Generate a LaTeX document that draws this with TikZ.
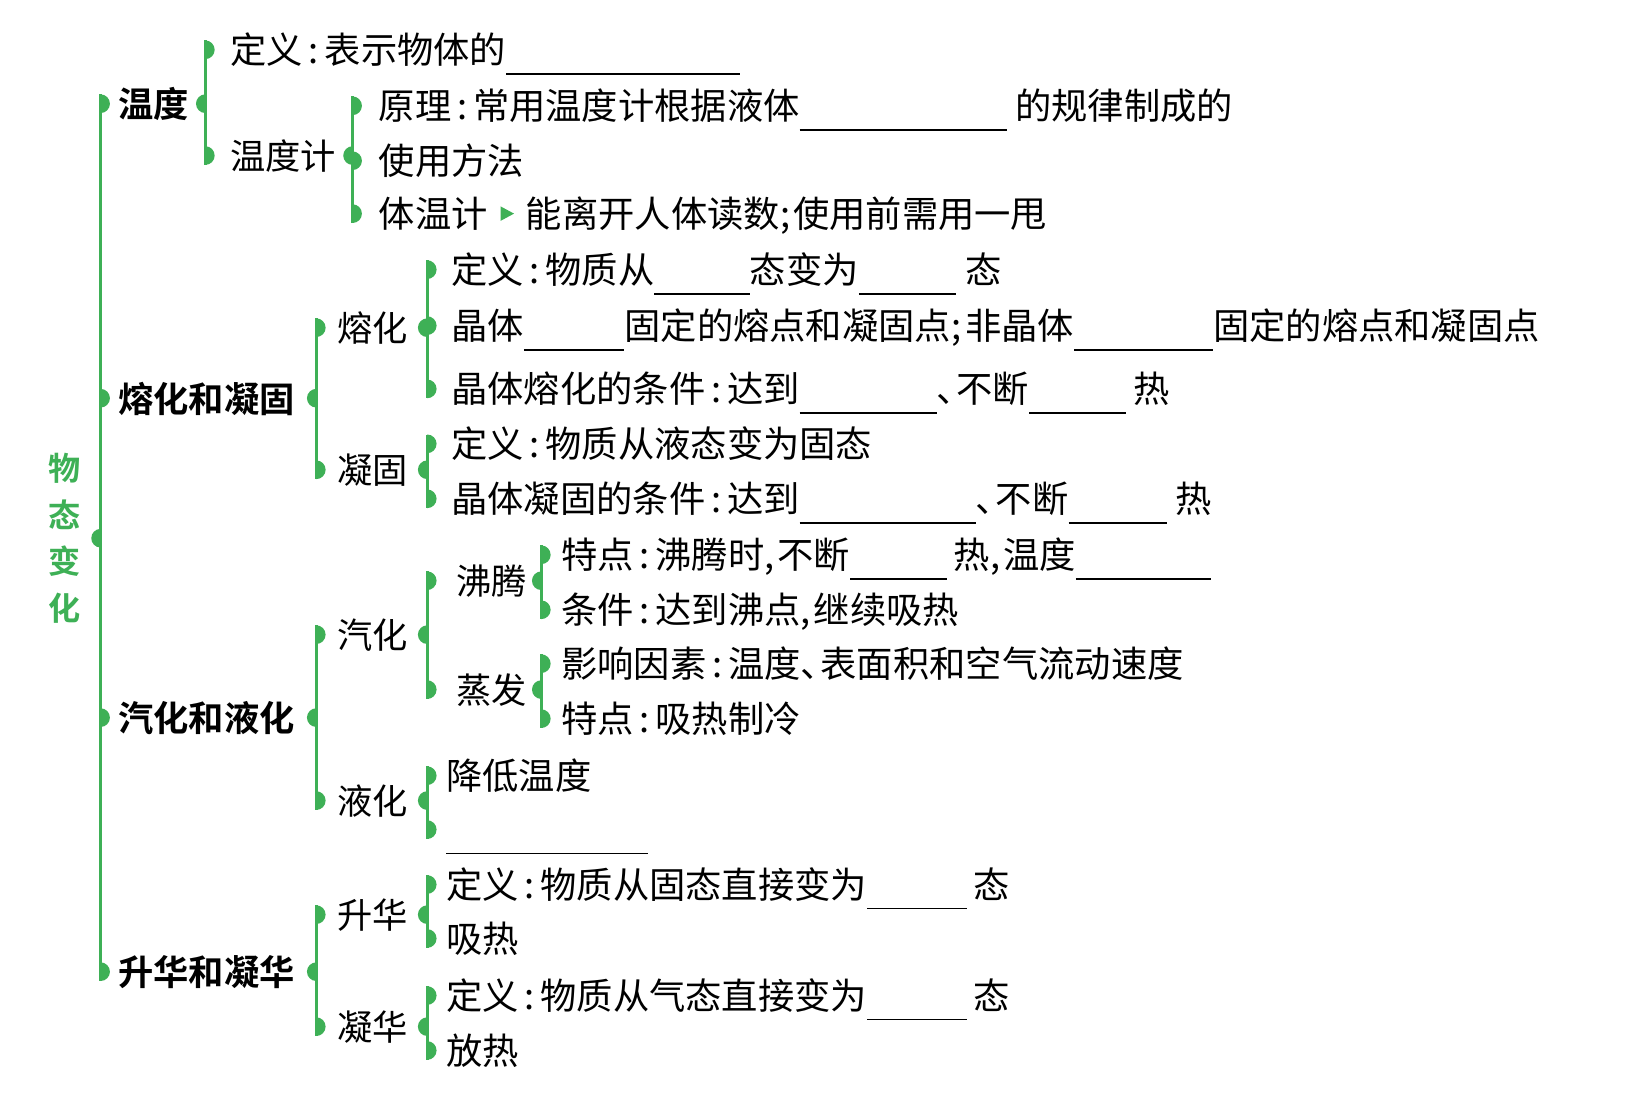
\documentclass[tikz,border=0pt]{standalone}
\usepackage{fontspec}
\setmainfont{Noto Sans CJK SC}[BoldFont={Noto Sans CJK SC Bold}]
\usetikzlibrary{calc}
\definecolor{forkgreen}{RGB}{62,176,86}
\newcommand{\fillin}[1]{\rule[-0.3em]{#1pt}{1.5pt}}
\newcommand{\colonsep}{\hspace{0.16em}:\hspace{0.16em}}
\newcommand{\dun}{、\hspace{-0.45em}}
\tikzset{
  leaf/.style={anchor=west, inner sep=0pt, text height=31pt, text depth=4pt,
               font=\fontsize{35}{40}\selectfont},
  topic/.style={leaf, font=\fontsize{34}{40}\selectfont\bfseries},
  branch/.style={leaf, font=\fontsize{34}{40}\selectfont},
  rootlabel/.style={inner sep=0pt, align=center, text=forkgreen,
                    font=\fontsize{31}{45}\selectfont\bfseries},
  forkline/.style={draw=forkgreen, line width=3pt},
  bump/.style={fill=forkgreen}
}
% #1 x of the bar, #2 parent, #3 first child, #4 last child, #5 all children
\newcommand{\fork}[5]{%
  \coordinate (fx) at (#1,0);
  \draw[forkline, shorten <=-9pt, shorten >=-9pt] (fx |- #3) -- (fx |- #4);
  \foreach \kid in {#5}
    \fill[bump] (fx |- \kid) ++(0,-9) arc[start angle=90, end angle=-90, radius=9pt] -- cycle;
  \fill[bump] (fx |- #2) ++(0,-9) arc[start angle=90, end angle=270, radius=9pt] -- cycle;
}
\begin{document}
\begin{tikzpicture}[x=1pt, y=-1pt]
  \useasboundingbox (0,0) rectangle (1568,1061);
  \node[rootlabel] (root) at (62,519) {物\\态\\变\\化};

  % first level
  \node[topic] (wd) at (114,100) {温度};
  \node[topic] (rn) at (114,384) {熔化和凝固};
  \node[topic] (qy) at (114,692) {汽化和液化};
  \node[topic] (sn) at (114,937) {升华和凝华};
  \fork{97}{root}{wd}{sn}{wd,rn,qy,sn}

  % temperature
  \node[leaf] (wddef) at (222,48) {定义\colonsep 表示物体的\fillin{225}};
  \node[branch] (wdj) at (222,150) {温度计};
  \fork{198}{wd}{wddef}{wdj}{wddef,wdj}
  \node[leaf] (yl) at (365,102) {原理\colonsep 常用温度计根据液体\fillin{200}\hspace{8pt}的规律制成的};
  \node[leaf] (syff) at (365,155) {使用方法};
  \node[leaf] (twj) at (365,206) {体温计};
  \node[leaf] (twjt) at (507,206) {能离开人体读数;\hspace{3pt}使用前需用一甩};
  \fork{340}{wdj}{yl}{twj}{yl,syff,twj}
  \path (twj.east) -- (twjt.west) coordinate[midway] (tip);
  \fill[bump] ($(tip)+(-6,-7)$) -- ($(tip)+(7,0)$) -- ($(tip)+(-6,7)$) -- cycle;

  % melting and solidifying
  \node[branch] (rh) at (325,316) {熔化};
  \node[branch] (ng) at (325,453) {凝固};
  \fork{305}{rn}{rh}{ng}{rh,ng}
  \node[leaf] (rhdef) at (435,260) {定义\colonsep 物质从\fillin{92}态变为\fillin{94}\hspace{9pt}态};
  \node[leaf] (jt) at (435,314) {晶体\fillin{97}固定的熔点和凝固点;\hspace{4pt}非晶体\fillin{134}固定的熔点和凝固点};
  \node[leaf] (rhtj) at (435,375) {晶体熔化的条件\colonsep 达到\fillin{132}\dun 不断\fillin{93}\hspace{8pt}热};
  \fork{412}{rh}{rhdef}{rhtj}{rhdef,jt,rhtj}
  \node[leaf] (ngdef) at (435,428) {定义\colonsep 物质从液态变为固态};
  \node[leaf] (ngtj) at (435,481) {晶体凝固的条件\colonsep 达到\fillin{170}\dun 不断\fillin{95}\hspace{8pt}热};
  \fork{412}{ng}{ngdef}{ngtj}{ngdef,ngtj}

  % vaporizing and liquefying
  \node[branch] (qh) at (325,612) {汽化};
  \node[branch] (yh) at (325,772) {液化};
  \fork{305}{qy}{qh}{yh}{qh,yh}
  \node[branch] (ft) at (440,560) {沸腾};
  \node[branch] (zf) at (440,665) {蒸发};
  \fork{412}{qh}{ft}{zf}{ft,zf}
  \node[leaf] (fttd) at (541,535) {特点\colonsep 沸腾时,\hspace{3pt}不断\fillin{93}\hspace{7pt}热,\hspace{3pt}温度\fillin{130}};
  \node[leaf] (fttj) at (541,588) {条件\colonsep 达到沸点,\hspace{3pt}继续吸热};
  \fork{522}{ft}{fttd}{fttj}{fttd,fttj}
  \node[leaf] (zfys) at (541,640) {影响因素\colonsep 温度\dun 表面积和空气流动速度};
  \node[leaf] (zftd) at (541,693) {特点\colonsep 吸热制冷};
  \fork{522}{zf}{zfys}{zftd}{zfys,zftd}
  \node[leaf] (jdwd) at (430,748) {降低温度};
  \node[leaf] (yhgap) at (430,800) {\fillin{195}};
  \fork{412}{yh}{jdwd}{yhgap}{jdwd,yhgap}

  % sublimation and deposition
  \node[branch] (shh) at (325,882) {升华};
  \node[branch] (nh) at (325,990) {凝华};
  \fork{305}{sn}{shh}{nh}{shh,nh}
  \node[leaf] (shdef) at (430,853) {定义\colonsep 物质从固态直接变为\fillin{96}\hspace{7pt}态};
  \node[leaf] (shxr) at (430,905) {吸热};
  \fork{412}{shh}{shdef}{shxr}{shdef,shxr}
  \node[leaf] (nhdef) at (430,960) {定义\colonsep 物质从气态直接变为\fillin{96}\hspace{7pt}态};
  \node[leaf] (nhfr) at (430,1013) {放热};
  \fork{412}{nh}{nhdef}{nhfr}{nhdef,nhfr}
\end{tikzpicture}
\end{document}
